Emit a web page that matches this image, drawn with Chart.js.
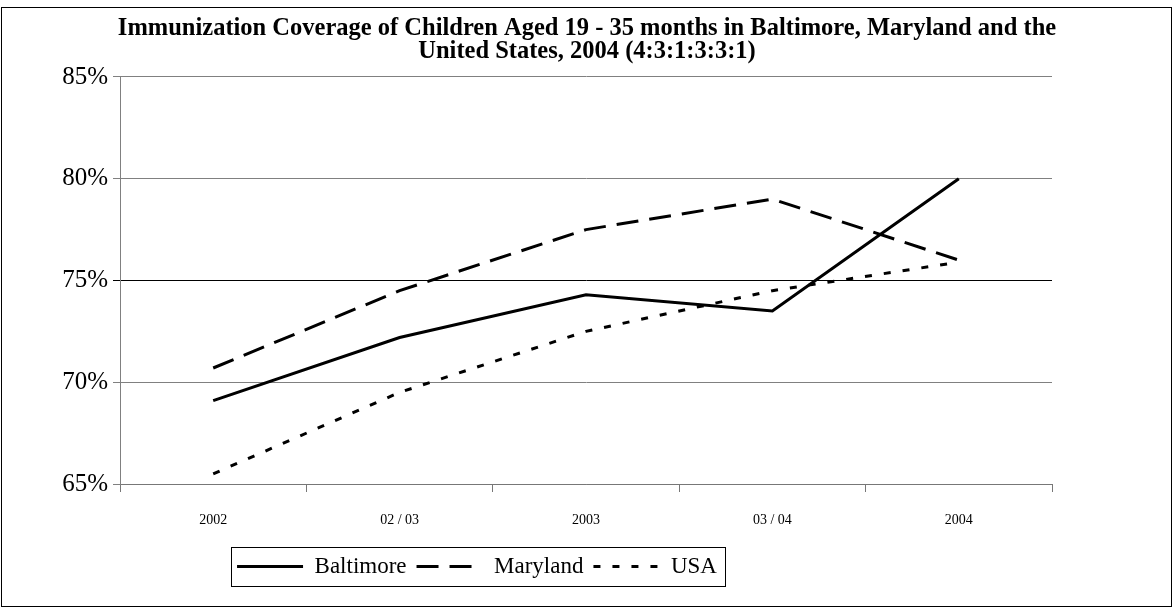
<!DOCTYPE html>
<html>
<head>
<meta charset="utf-8">
<script src="https://cdn.jsdelivr.net/npm/chart.js@4"></script>
<style>
  html, body { margin: 0; padding: 0; background: #fff; }
</style>
</head>
<body>
<canvas id="chart" width="1174" height="614"></canvas>
<script>
const periods = ["2002", "02 / 03", "2003", "03 / 04", "2004"];
const baltimore = [69.1, 72.2, 74.3, 73.5, 80.0];
const maryland = [70.7, 74.5, 77.5, 79.0, 76.0];
const usa = [65.5, 69.5, 72.5, 74.5, 75.9];
const titleLines = [
  "Immunization Coverage of Children Aged 19 - 35 months in Baltimore, Maryland and the",
  "United States, 2004 (4:3:1:3:3:1)"
];

const serif = "'Liberation Serif', 'Times New Roman', serif";

// title centred on the whole picture, legend under the left half,
// frame round the legend and round the whole picture
const frames = {
  id: "frames",
  afterUpdate(chart) {
    const tb = chart.titleBlock;
    if (tb) { tb.left = 0; tb.right = chart.width; }
    const lg = chart.legend;
    const hb = lg.legendHitBoxes;
    if (!hb || !hb.length) return;
    const l = Math.min(...hb.map(b => b.left));
    const r = Math.max(...hb.map(b => b.left + b.width));
    const dx = 477 - (l + r) / 2;
    const dy = 566.5 - (hb[0].top + hb[0].height / 2);
    lg.left += dx; lg.right += dx;
    lg.top += dy; lg.bottom += dy;
    hb.forEach(b => { b.left += dx; b.top += dy; });
  },
  afterDraw(chart) {
    const ctx = chart.ctx;
    ctx.save();
    ctx.strokeStyle = "#000";
    ctx.lineWidth = 1;
    ctx.setLineDash([]);
    ctx.strokeRect(1.5, 7.5, 1170, 599);
    const hb = chart.legend.legendHitBoxes;
    if (hb && hb.length) {
      const l = Math.min(...hb.map(b => b.left)) - 6;
      const r = Math.max(...hb.map(b => b.left + b.width)) + 8;
      const cy = hb[0].top + hb[0].height / 2;
      ctx.strokeRect(Math.round(l) + 0.5, Math.round(cy - 19.5) + 0.5, Math.round(r - l), 39);
    }
    ctx.restore();
  }
};

new Chart(document.getElementById("chart"), {
  type: "line",
  data: {
    labels: periods,
    datasets: [
      { label: "Baltimore", data: baltimore, borderColor: "#000", borderWidth: 3,
        pointRadius: 0, pointStyle: "line", tension: 0 },
      { label: "Maryland", data: maryland, borderColor: "#000", borderWidth: 3,
        borderDash: [22, 11], pointRadius: 0, pointStyle: "line", tension: 0 },
      { label: "USA", data: usa, borderColor: "#000", borderWidth: 3,
        borderDash: [7, 12], pointRadius: 0, pointStyle: "line", tension: 0 }
    ]
  },
  options: {
    responsive: false,
    devicePixelRatio: 1,
    animation: false,
    layout: { padding: { left: 0, right: 122, top: 0, bottom: 0 } },
    plugins: {
      title: {
        display: true,
        text: titleLines,
        color: "#000",
        font: { family: serif, size: 24.5, weight: "bold", lineHeight: 0.94 },
        padding: { top: 17.5, bottom: 13.4 }
      },
      legend: {
        position: "bottom",
        labels: {
          color: "#000",
          font: { family: serif, size: 23 },
          usePointStyle: true,
          pointStyleWidth: 66,
          padding: 10,
          generateLabels: chart => {
            const items = Chart.defaults.plugins.legend.labels.generateLabels(chart);
            items.forEach(it => {
              const ds = chart.data.datasets[it.datasetIndex];
              it.lineDash = ds.borderDash || [];
              it.lineWidth = ds.borderWidth;
              it.strokeStyle = ds.borderColor;
              it.pointStyle = "line";
            });
            return items;
          }
        }
      },
      tooltip: { enabled: false }
    },
    scales: {
      x: {
        offset: true,
        afterFit: s => { s.height = 130 - s.chart.legend.height; },
        grid: { offset: true, drawOnChartArea: false, drawTicks: true, tickLength: 8, color: "#777" },
        border: { color: "#777" },
        ticks: { color: "#000", font: { family: serif, size: 14 }, padding: 20, maxRotation: 0 }
      },
      y: {
        min: 65,
        max: 85,
        afterFit: s => { s.width = 120; },
        ticks: { stepSize: 5, color: "#000", font: { family: serif, size: 25 }, padding: 5,
          callback: v => v + "%" },
        grid: { color: c => (c.tick && c.tick.value === 75 ? "#000" : "#808080"), tickLength: 7 },
        border: { color: "#808080" }
      }
    }
  },
  plugins: [frames]
});
</script>
</body>
</html>
